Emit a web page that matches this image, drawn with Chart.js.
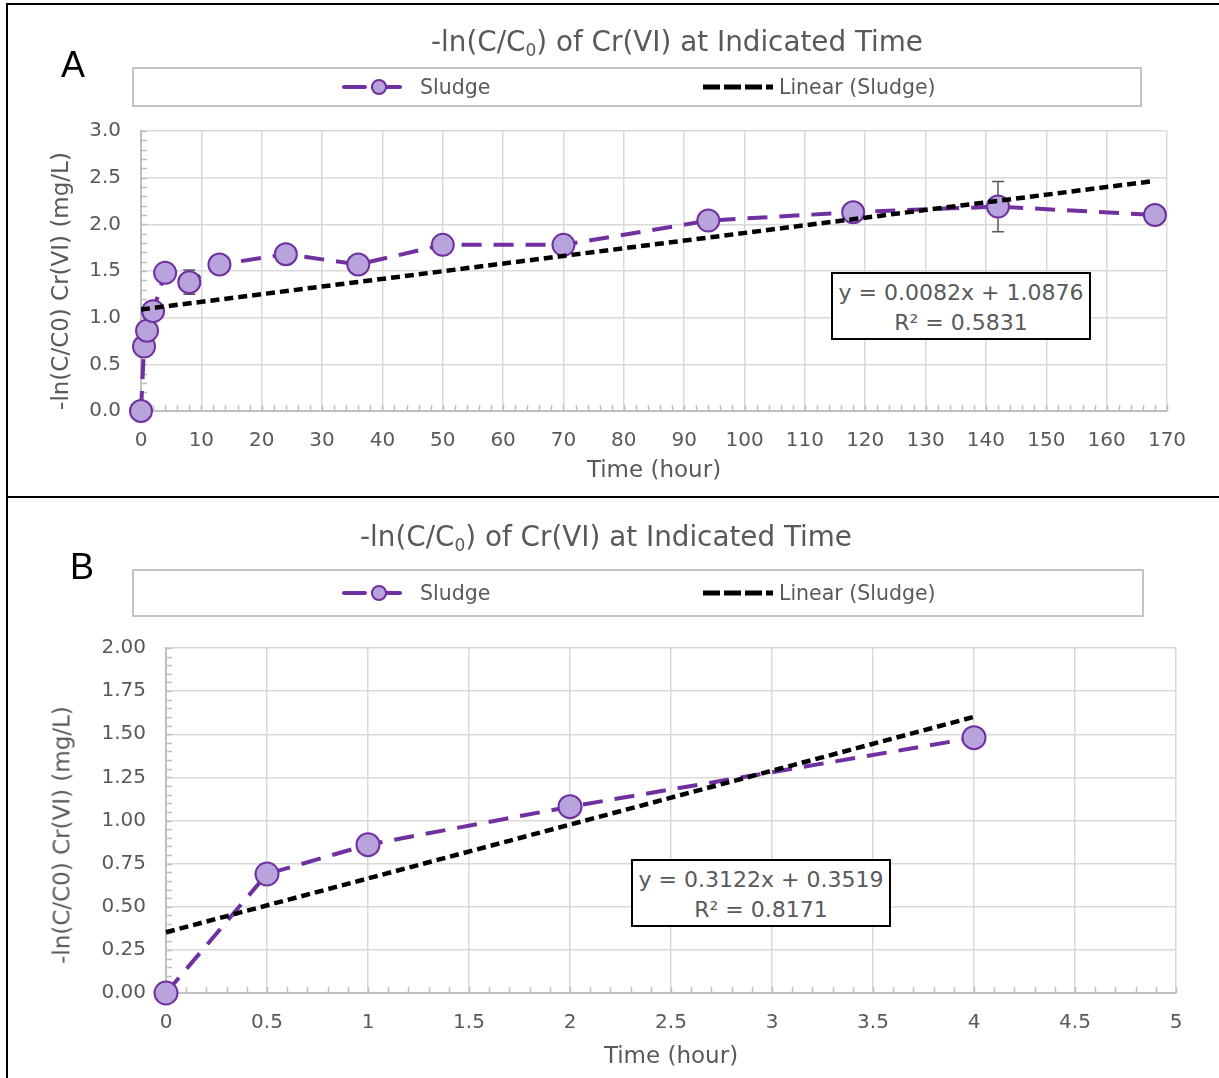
<!DOCTYPE html>
<html>
<head>
<meta charset="utf-8">
<script src="https://cdn.jsdelivr.net/npm/chart.js@4.4.1/dist/chart.umd.min.js"></script>
<style>
body { margin: 0; background: #fff; font-family: "DejaVu Sans", Arial, sans-serif; color: #595959; }
#page { position: relative; width: 1219px; height: 1078px; overflow: hidden; }
#page canvas { position: absolute; left: 0; }
.frame { position: absolute; left: 6px; width: 1300px; border-left: 2px solid #000; }
.title { position: absolute; font-size: 27.8px; line-height: 30px; white-space: nowrap; transform: translateX(-50%); }
.title sub { font-size: 17px; vertical-align: -5px; line-height: 0; }
.tag { position: absolute; font-family: "Liberation Sans", Arial, sans-serif; font-size: 36px; line-height: 36px; color: #000; }
.legend { position: absolute; left: 132px; border: 2px solid #c4c4c4; box-sizing: border-box; }
.legtext { position: absolute; font-size: 20.5px; line-height: 24px; white-space: nowrap; }
.legicon { position: absolute; }
.ytitle { position: absolute; font-size: 23px; line-height: 27px; white-space: nowrap;
          transform: translate(-50%, -50%) rotate(-90deg); }
.eq { position: absolute; border: 2px solid #000; box-sizing: border-box; background: #fff;
      font-size: 22px; line-height: 30px; text-align: center; padding-top: 4px; z-index: 2; white-space: nowrap; }
</style>
</head>
<body>
<div id="page">
  <div class="frame" style="top:3px;height:491px;border-top:2px solid #000;border-bottom:2px solid #000;"></div>
  <div class="frame" style="top:496px;height:600px;"></div>

  <canvas id="chartA" width="1219" height="495" style="top:0"></canvas>
  <canvas id="chartB" width="1219" height="583" style="top:495px"></canvas>

  <div class="tag" style="left:61px;top:47px">A</div>
  <div class="title" style="left:677px;top:27px">-ln(C/C<sub>0</sub>) of Cr(VI) at Indicated Time</div>
  <div class="legend" style="top:67px;width:1010px;height:40px"></div>
  <div class="ytitle" style="left:60px;top:281px">-ln(C/C0) Cr(VI) (mg/L)</div>

  <div class="tag" style="left:70px;top:549px">B</div>
  <div class="title" style="left:606px;top:522px">-ln(C/C<sub>0</sub>) of Cr(VI) at Indicated Time</div>
  <div class="legend" style="top:569px;width:1012px;height:48px"></div>
  <div class="ytitle" style="left:62px;top:835px">-ln(C/C0) Cr(VI) (mg/L)</div>

  <div class="eq" style="left:831px;top:272px;width:260px;height:68px">y = 0.0082x + 1.0876<br>R² = 0.5831</div>
  <div class="eq" style="left:631px;top:859px;width:260px;height:68px">y = 0.3122x + 0.3519<br>R² = 0.8171</div>
</div>

<script>
// panel A: full run, hours
const timeA = [0, 0.5, 1, 2, 4, 8, 13, 24, 36, 50, 70, 94, 118, 142, 168];
const valueA = [0, 0.69, 0.86, 1.07, 1.48, 1.38, 1.57, 1.68, 1.57, 1.78, 1.78, 2.04, 2.13, 2.19, 2.10];
const errorA = [0, 0, 0, 0, 0, 0.13, 0, 0, 0, 0, 0, 0, 0, 0.27, 0];
const slopeA = 0.0082, interceptA = 1.0876;

// panel B: first four hours
const timeB = [0, 0.5, 1, 2, 4];
const valueB = [0, 0.69, 0.86, 1.08, 1.48];
const errorB = [0, 0, 0, 0, 0];
const slopeB = 0.3122, interceptB = 0.3519;

const seriesLabel = 'Sludge';
const trendLabel = 'Linear (Sludge)';
const xTitle = 'Time (hour)';

const PURPLE = '#7030A0';
const MARKER = '#B8A3DC';
const GRID = '#d9d9d9';
const AXIS = '#bfbfbf';
const TEXT = '#595959';

Chart.defaults.font.family = '"DejaVu Sans", Arial, sans-serif';
Chart.defaults.color = TEXT;

// small inward ticks on the axis lines, like Excel minor tick marks
const minorTicks = {
    id: 'minorTicks',
    beforeDatasetsDraw(chart, args, opts) {
        const ctx = chart.ctx;
        const {x, y} = chart.scales;
        const area = chart.chartArea;
        ctx.save();
        ctx.strokeStyle = AXIS;
        ctx.lineWidth = 1.5;
        ctx.beginPath();
        for (let v = x.min; v <= x.max + 1e-9; v += opts.x) {
            const px = Math.round(x.getPixelForValue(v)) + 0.5;
            ctx.moveTo(px, area.bottom);
            ctx.lineTo(px, area.bottom - 6);
        }
        for (let v = y.min; v <= y.max + 1e-9; v += opts.y) {
            const py = Math.round(y.getPixelForValue(v)) + 0.5;
            ctx.moveTo(area.left, py);
            ctx.lineTo(area.left + 6, py);
        }
        ctx.stroke();
        ctx.restore();
    }
};

const errorBars = {
    id: 'errorBars',
    beforeDatasetsDraw(chart, args, opts) {
        const ctx = chart.ctx;
        const {x, y} = chart.scales;
        const data = chart.data.datasets[0].data;
        ctx.save();
        ctx.strokeStyle = TEXT;
        ctx.lineWidth = 1.5;
        data.forEach((p, i) => {
            const e = opts.errors[i];
            if (!e) return;
            const px = x.getPixelForValue(p.x);
            const top = y.getPixelForValue(p.y + e);
            const bot = y.getPixelForValue(p.y - e);
            ctx.beginPath();
            ctx.moveTo(px, top); ctx.lineTo(px, bot);
            ctx.moveTo(px - 6, top); ctx.lineTo(px + 6, top);
            ctx.moveTo(px - 6, bot); ctx.lineTo(px + 6, bot);
            ctx.stroke();
        });
        ctx.restore();
    }
};

function makeChart(id, cfg) {
    const points = cfg.time.map((t, i) => ({x: t, y: cfg.value[i]}));
    const last = cfg.time[cfg.time.length - 1];
    const trend = [
        {x: 0, y: cfg.intercept},
        {x: last, y: cfg.intercept + cfg.slope * last}
    ];
    return new Chart(document.getElementById(id), {
        type: 'scatter',
        data: {
            datasets: [{
                label: seriesLabel,
                data: points,
                showLine: true,
                borderColor: PURPLE,
                borderWidth: 4,
                borderDash: [20, 12],
                pointRadius: cfg.radius,
                pointBackgroundColor: MARKER,
                pointBorderColor: PURPLE,
                pointBorderWidth: 2,
                clip: false,
                order: 1
            }, {
                label: trendLabel,
                data: trend,
                showLine: true,
                borderColor: '#000',
                borderWidth: 4.5,
                borderDash: [9, 5],
                pointRadius: 0,
                clip: false,
                order: 0
            }]
        },
        options: {
            responsive: false,
            animation: false,
            devicePixelRatio: 1,
            layout: {padding: cfg.padding},
            plugins: {
                legend: {display: false},
                tooltip: {enabled: false},
                minorTicks: cfg.minor,
                errorBars: {errors: cfg.errors}
            },
            scales: {
                x: {
                    type: 'linear',
                    min: 0, max: cfg.xMax,
                    afterFit(s) { s.height = cfg.xHeight; },
                    ticks: {stepSize: cfg.xStep, padding: 18, font: {size: 20}, color: TEXT, maxRotation: 0, autoSkip: false,
                            callback: v => String(+v.toFixed(2))},
                    grid: {color: GRID, lineWidth: 1.5, drawTicks: false},
                    border: {color: AXIS, width: 2},
                    title: {display: true, text: xTitle, font: {size: 23}, color: TEXT, padding: 0}
                },
                y: {
                    min: 0, max: cfg.yMax,
                    afterFit(s) { s.width = cfg.yWidth; },
                    ticks: {stepSize: cfg.yStep, padding: 20, font: {size: 20}, color: TEXT,
                            callback: v => v.toFixed(cfg.yDigits)},
                    grid: {color: GRID, lineWidth: 1.5, drawTicks: false},
                    border: {color: AXIS, width: 2}
                }
            }
        },
        plugins: [minorTicks, errorBars]
    });
}

makeChart('chartA', {
    time: timeA, value: valueA, errors: errorA, slope: slopeA, intercept: interceptA,
    xMax: 170, xStep: 10, yMax: 3, yStep: 0.5, yDigits: 1, radius: 11,
    minor: {x: 2, y: 0.1},
    padding: {left: 47, top: 131, right: 52, bottom: 10},
    yWidth: 94, xHeight: 74
});

makeChart('chartB', {
    time: timeB, value: valueB, errors: errorB, slope: slopeB, intercept: interceptB,
    xMax: 5, xStep: 0.5, yMax: 2, yStep: 0.25, yDigits: 2, radius: 11.5,
    minor: {x: 0.1, y: 0.05},
    padding: {left: 50, top: 153, right: 43, bottom: 7},
    yWidth: 116, xHeight: 78
});

// legend entries drawn as small svg samples + real text
function addLegend(top, h) {
    const page = document.getElementById('page');
    const cy = top + h / 2;
    const svg = `<svg class="legicon" width="500" height="20" style="left:330px;top:${cy - 10}px" xmlns="http://www.w3.org/2000/svg">
        <line x1="14" y1="10" x2="35" y2="10" stroke="${PURPLE}" stroke-width="4" stroke-linecap="round"/>
        <line x1="43" y1="10" x2="70" y2="10" stroke="${PURPLE}" stroke-width="4" stroke-linecap="round"/>
        <circle cx="49" cy="10" r="7" fill="${MARKER}" stroke="${PURPLE}" stroke-width="2"/>
        <line x1="373" y1="10" x2="443" y2="10" stroke="#000" stroke-width="5" stroke-dasharray="17 4" stroke-linecap="butt"/>
    </svg>`;
    page.insertAdjacentHTML('beforeend', svg);
    page.insertAdjacentHTML('beforeend', `<div class="legtext" style="left:420px;top:${cy - 12}px">${seriesLabel}</div>`);
    page.insertAdjacentHTML('beforeend', `<div class="legtext" style="left:779px;top:${cy - 12}px">${trendLabel}</div>`);
}
addLegend(67, 40);
addLegend(569, 48);
</script>
</body>
</html>
